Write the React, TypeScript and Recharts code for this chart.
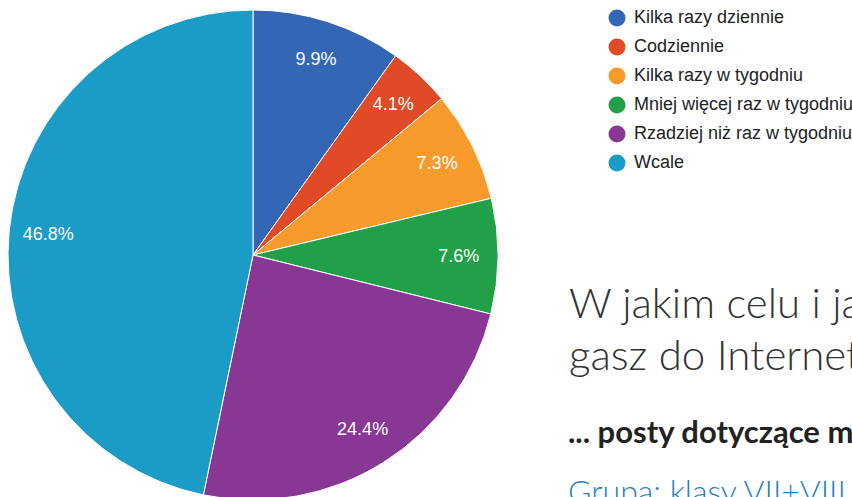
import React from "react";
import { PieChart, Pie, Cell, Legend } from "recharts";

// Answer categories and their share of responses (%)
const categories = [
  "Kilka razy dziennie",
  "Codziennie",
  "Kilka razy w tygodniu",
  "Mniej więcej raz w tygodniu",
  "Rzadziej niż raz w tygodniu",
  "Wcale",
];
const shares = [9.9, 4.1, 7.3, 7.6, 24.4, 46.8];
const colors = ["#3466b6", "#e04a26", "#f89a2c", "#22a047", "#883894", "#1b9cc6"];

const titleLines = ["W jakim celu i jak często się", "gasz do Internetu?"];
const subtitle = "... posty dotyczące mediów";
const groupLink = "Grupa: klasy VII+VIII";

const data = categories.map((name, i) => ({ name, value: shares[i] }));

const RADIAN = Math.PI / 180;

const renderLabel = (props: any) => {
  const { cx, cy, midAngle, outerRadius, index } = props;
  const r = outerRadius * 0.84;
  const x = cx + r * Math.cos(-midAngle * RADIAN);
  const y = cy + r * Math.sin(-midAngle * RADIAN);
  return (
    <text
      x={x}
      y={y}
      fill="#ffffff"
      textAnchor="middle"
      dominantBaseline="central"
      fontFamily="'Liberation Sans', Arial, sans-serif"
      fontSize={18}
    >
      {`${shares[index].toFixed(1)}%`}
    </text>
  );
};

const renderLegend = () => (
  <div style={{ margin: 0, padding: 0 }}>
    {categories.map((name, i) => (
      <div
        key={name}
        style={{
          display: "flex",
          alignItems: "center",
          height: 29,
          whiteSpace: "nowrap",
        }}
      >
        <svg width={18} height={18} style={{ flex: "none" }}>
          <circle cx={9} cy={9} r={8.5} fill={colors[i]} />
        </svg>
        <span
          style={{
            marginLeft: 8,
            fontFamily: "'Liberation Sans', Arial, sans-serif",
            fontSize: 18,
            color: "#222222",
          }}
        >
          {name}
        </span>
      </div>
    ))}
  </div>
);

export default function App() {
  return (
    <div
      style={{
        position: "fixed",
        left: 0,
        top: 0,
        width: 852,
        height: 497,
        overflow: "hidden",
        background: "#ffffff",
      }}
    >
      <PieChart
        width={852}
        height={497}
        margin={{ top: 0, right: 0, bottom: 0, left: 0 }}
        style={{ position: "absolute", left: 0, top: 0 }}
      >
        <Pie
          data={data}
          dataKey="value"
          nameKey="name"
          cx={253}
          cy={255}
          outerRadius={245}
          startAngle={90}
          endAngle={-270}
          stroke="#ffffff"
          strokeWidth={1}
          labelLine={false}
          label={renderLabel}
          isAnimationActive={false}
        >
          {data.map((d, i) => (
            <Cell key={d.name} fill={colors[i]} />
          ))}
        </Pie>
        <Legend
          content={renderLegend}
          wrapperStyle={{ position: "absolute", left: 608, top: 3, width: 300 }}
        />
      </PieChart>
      <svg
        width={852}
        height={497}
        style={{ position: "absolute", left: 0, top: 0, pointerEvents: "none" }}
      >
        <text x={569} y={318} fontFamily="Lato" fontWeight={300} fontSize={42} fill="#333333">
          {titleLines[0]}
        </text>
        <text x={569} y={370} fontFamily="Lato" fontWeight={300} fontSize={42} fill="#333333">
          {titleLines[1]}
        </text>
        <text x={568} y={443} fontFamily="Lato" fontWeight={700} fontSize={31} fill="#222222">
          {subtitle}
        </text>
        <text x={568} y={503} fontFamily="Lato" fontWeight={300} fontSize={32} fill="#1f7fc4">
          {groupLink}
        </text>
      </svg>
    </div>
  );
}
